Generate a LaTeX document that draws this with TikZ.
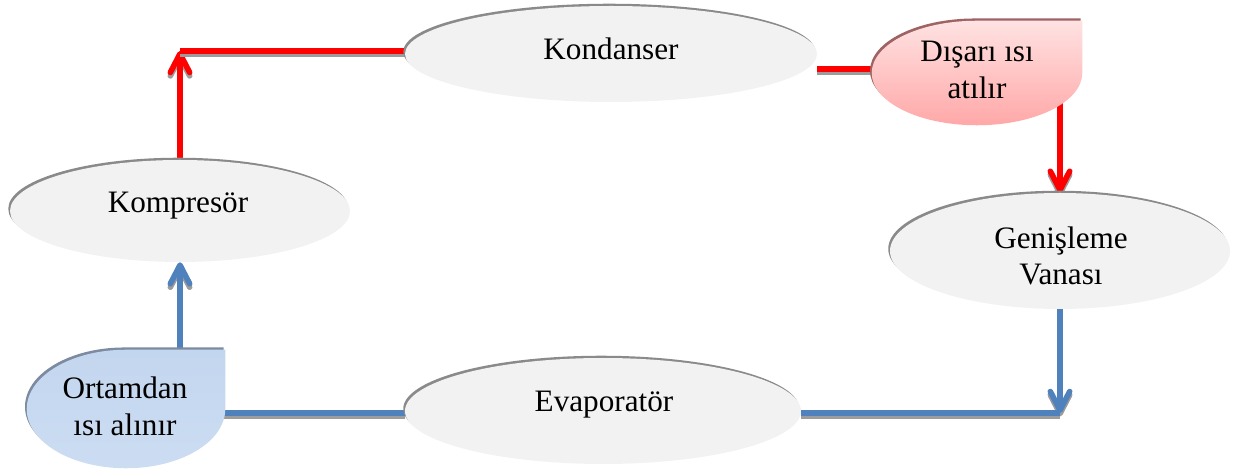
\documentclass[tikz,border=0pt]{standalone}
\usepackage{fontspec}
\setmainfont{Liberation Serif}
\usetikzlibrary{shapes.geometric, arrows.meta, shadows, backgrounds, calc}

\definecolor{procfill}{HTML}{F2F2F2}
\definecolor{procrim}{HTML}{8A8A8A}
\definecolor{hotline}{HTML}{FF0000}
\definecolor{coldline}{HTML}{4F81BD}
\definecolor{lineshade}{HTML}{9C9C9C}
\definecolor{hottop}{HTML}{FFE2E2}
\definecolor{hotbottom}{HTML}{FFA8A8}
\definecolor{hotrim}{HTML}{9E6464}
\definecolor{coldtop}{HTML}{C3D6EF}
\definecolor{coldbottom}{HTML}{CCDDF2}
\definecolor{coldrim}{HTML}{7D8BA0}

\tikzset{
  proc/.style 2 args={ellipse, inner sep=0pt, fill=procfill,
    minimum width=#1*1.5pt, minimum height=#2*1.5pt,
    general shadow={fill=procrim, shadow xshift=-1.3pt, shadow yshift=1.7pt}},
  tdbox/.style 2 args={rectangle, inner sep=0pt,
    minimum width=#1*1.5pt, minimum height=#2*1.5pt},
  lbl/.style={font=\fontsize{23.4pt}{27.5pt}\selectfont, inner sep=0pt, align=center},
  flow/.style={line width=4.2pt, draw=#1},
  headed/.style={-{Straight Barb[length=14pt,width=14.5pt,round]}},
}

% a connector with its grey shadow dropped below it
\newcommand\flowline[2]{%
  \draw[#1, draw=lineshade, transform canvas={yshift=-2.6pt}] #2;
  \draw[#1] #2;}

% rounded box with one square corner (top right), filled with a vertical gradient
\newcommand\teardrop[4]{%
  \shade[top color=#2, bottom color=#3,
         general shadow={fill=#4, shadow xshift=-1.3pt, shadow yshift=1.7pt}]
    (#1.north east) -- (#1.east)
    .. controls ($(#1.east)!0.5523!(#1.south east)$) and ($(#1.south)!0.5523!(#1.south east)$) .. (#1.south)
    .. controls ($(#1.south)!0.5523!(#1.south west)$) and ($(#1.west)!0.5523!(#1.south west)$) .. (#1.west)
    .. controls ($(#1.west)!0.5523!(#1.north west)$) and ($(#1.north)!0.5523!(#1.north west)$) .. (#1.north)
    -- cycle;}

\begin{document}
\begin{tikzpicture}[x=0.75pt, y=-0.75pt]
  \useasboundingbox (0,0) rectangle (1245,473);

  % stages of the cycle
  \node[proc={206}{48}] (kondanser)  at (611,54)  {};
  \node[proc={170}{51}] (kompresor)  at (180,211) {};
  \node[proc={170}{58}] (genisleme)  at (1060,251) {};
  \node[proc={198}{53}] (evaporator) at (603,411) {};

  % heat exchange boxes
  \node[tdbox={105}{52}] (disari)   at (977,73)  {};
  \node[tdbox={99}{59}]  (ortamdan) at (126,409) {};
  \teardrop{disari}{hottop}{hotbottom}{hotrim}
  \teardrop{ortamdan}{coldtop}{coldbottom}{coldrim}

  % texts
  \node[lbl, anchor=base] (kondanserT)  at (611,60)  {Kondanser};
  \node[lbl, anchor=base] (kompresorT)  at (178,213) {Kompresör};
  \node[lbl, anchor=base] (evaporatorT) at (604,412) {Evaporatör};
  \node[lbl] (genislemeT) at (1061,256)  {Genişleme\\Vanası};
  \node[lbl] (disariT)    at (977,70)    {Dışarı ısı\\atılır};
  \node[lbl] (ortamdanT)  at (125,406.5) {Ortamdan\\ısı alınır};

  % corner points of the piping
  \coordinate (c1) at (180,51);
  \coordinate (c2) at (1060,413);
  \coordinate (kd) at ($(kondanser.east)+(0,15)$);

  \begin{scope}[on background layer]
    % hot side
    \flowline{flow=hotline, headed}{(kompresor.north) -- (c1)}
    \flowline{flow=hotline}{(c1) -- (c1 -| kondanser.west)}
    \flowline{flow=hotline}{(kd) -- (kd -| disari.west)}
    \flowline{flow=hotline, headed}{(genisleme.north |- disari.center) -- (genisleme.north)}
    % cold side
    \flowline{flow=coldline, headed}{(genisleme.south) -- (c2)}
    \flowline{flow=coldline}{(evaporator.east |- c2) -- (c2)}
    \flowline{flow=coldline}{(ortamdan.center |- c2) -- (evaporator.west |- c2)}
    \flowline{flow=coldline, headed}{(kompresor.south |- ortamdan.north) -- (kompresor.south)}
  \end{scope}
\end{tikzpicture}
\end{document}
